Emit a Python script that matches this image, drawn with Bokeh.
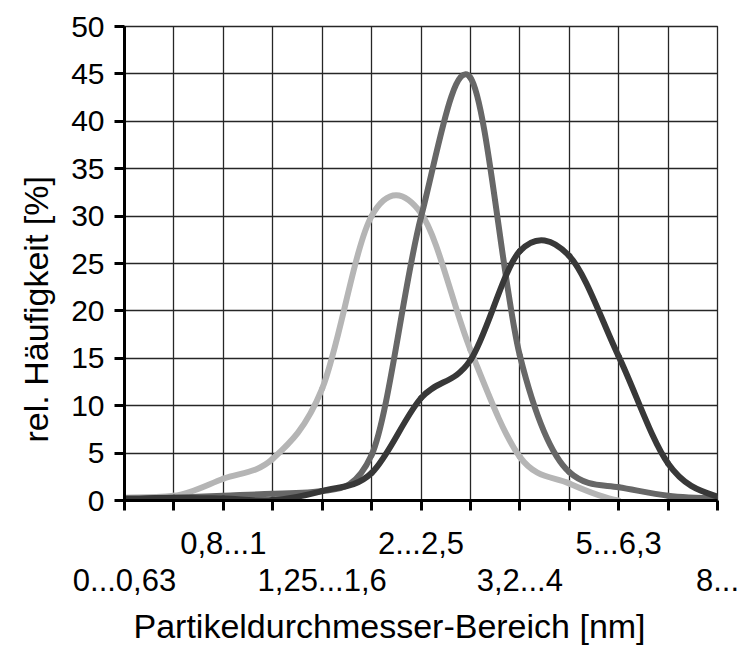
import math
from bokeh.plotting import figure
from bokeh.models import Range1d, FixedTicker, LinearAxis, Title, ColumnDataSource
from bokeh.embed import file_html
from bokeh.resources import INLINE

nan = float("nan")

# particle diameter classes (nm)
categories = ["0...0,63", "0,63...0,8", "0,8...1", "1...1,25", "1,25...1,6", "1,6...2",
              "2...2,5", "2,5...3,2", "3,2...4", "4...5", "5...6,3", "6,3...8", "8..."]
# labels shown in upper row / lower row (indices)
upper_row = [2, 6, 10]
lower_row = [0, 4, 8, 12]

# relative frequency [%]
series_light = [0.3, 0.5, 2.3, 4.4, 11.8, 30.0, 30.3, 15.9, 4.6, 1.8, 0.0, nan, nan]
series_mid = [0.1, 0.3, 0.5, 0.7, 1.0, 4.8, 29.9, 44.6, 15.3, 3.0, 1.4, 0.5, 0.2]
series_dark = [0.2, 0.3, 0.2, 0.05, 1.0, 2.9, 10.8, 14.8, 26.3, 25.8, 15.2, 3.9, 0.4]

y_ticks = list(range(0, 51, 5))

FONT = "Liberation Sans"

p = figure(width=742, height=658, output_backend="svg", toolbar_location=None,
           x_range=Range1d(0, len(categories) - 1), y_range=Range1d(0, 50),
           min_border_left=124, min_border_right=25, min_border_top=26, min_border_bottom=158)
p.background_fill_color = "white"
p.border_fill_color = "white"
p.outline_line_color = "#262626"
p.outline_line_width = 1.3

xt = list(range(len(categories)))

# grid
p.xgrid.ticker = FixedTicker(ticks=xt)
p.ygrid.ticker = FixedTicker(ticks=y_ticks)
for g in (p.xgrid, p.ygrid):
    g.grid_line_color = "#262626"
    g.grid_line_width = 1.3

# y axis
ya = p.yaxis[0]
ya.ticker = FixedTicker(ticks=y_ticks)
ya.axis_line_width = 3
ya.axis_line_color = "black"
ya.major_tick_line_width = 3
ya.major_tick_out = 10
ya.major_tick_in = 0
ya.minor_tick_out = 0
ya.minor_tick_in = 0
ya.major_label_text_font = FONT
ya.major_label_text_font_size = "30px"
ya.major_label_text_color = "black"
ya.major_label_standoff = 10

# x axis, upper row of labels
xa = p.xaxis[0]
xa.ticker = FixedTicker(ticks=xt)
xa.major_label_overrides = {i: (categories[i] if i in upper_row else "") for i in xt}
xa.axis_line_width = 3
xa.axis_line_color = "black"
xa.major_tick_line_width = 3
xa.major_tick_out = 10
xa.major_tick_in = 0
xa.minor_tick_out = 0
xa.minor_tick_in = 0
xa.major_label_text_font = FONT
xa.major_label_text_font_size = "31px"
xa.major_label_text_color = "black"
xa.major_label_standoff = 21

# x axis, lower row of labels
xb = LinearAxis(ticker=FixedTicker(ticks=lower_row))
xb.major_label_overrides = {i: categories[i] for i in lower_row}
xb.axis_line_color = None
xb.major_tick_line_color = None
xb.major_tick_out = 0
xb.major_tick_in = 0
xb.minor_tick_line_color = None
xb.major_label_text_font = FONT
xb.major_label_text_font_size = "31px"
xb.major_label_text_color = "black"
xb.major_label_standoff = 12
p.add_layout(xb, "below")


def bezier_source(vals):
    """Smoothed-line segments (cubic Bezier, Catmull-Rom tangents with
    overshoot limiting on monotone stretches)."""
    n = len(vals)

    def ok(v):
        return v is not None and not math.isnan(v)

    m = []
    for i in range(n):
        if not ok(vals[i]):
            m.append(nan)
            continue
        a = vals[i - 1] if i > 0 and ok(vals[i - 1]) else vals[i]
        b = vals[i + 1] if i + 1 < n and ok(vals[i + 1]) else vals[i]
        m.append((b - a) / 2.0)

    for i in range(n - 1):
        if not (ok(vals[i]) and ok(vals[i + 1])):
            continue
        delta = vals[i + 1] - vals[i]
        if delta == 0:
            continue
        al, be = m[i] / delta, m[i + 1] / delta
        if al > 0 and be > 0 and al * al + be * be > 9:
            tau = 3.0 / math.sqrt(al * al + be * be)
            m[i] = tau * al * delta
            m[i + 1] = tau * be * delta

    d = dict(x0=[], y0=[], x1=[], y1=[], cx0=[], cy0=[], cx1=[], cy1=[])
    for i in range(n - 1):
        if not (ok(vals[i]) and ok(vals[i + 1])):
            continue
        d["x0"].append(i)
        d["y0"].append(vals[i])
        d["x1"].append(i + 1)
        d["y1"].append(vals[i + 1])
        d["cx0"].append(i + 1 / 3)
        d["cy0"].append(vals[i] + m[i] / 3)
        d["cx1"].append(i + 1 - 1 / 3)
        d["cy1"].append(vals[i + 1] - m[i + 1] / 3)
    return ColumnDataSource(d)


for vals, col in ((series_light, "#b5b5b5"), (series_mid, "#676767"), (series_dark, "#383838")):
    p.bezier(x0="x0", y0="y0", x1="x1", y1="y1", cx0="cx0", cy0="cy0", cx1="cx1", cy1="cy1",
             source=bezier_source(vals), line_color=col, line_width=6, line_cap="round")

# axis titles
p.add_layout(Title(text="rel. Häufigkeit [%]", align="left", offset=58, standoff=28,
                   text_font=FONT, text_font_size="34px", text_font_style="normal",
                   text_color="black"), "left")
p.add_layout(Title(text="Partikeldurchmesser-Bereich [nm]", align="left", offset=9, standoff=23,
                   text_font=FONT, text_font_size="34px", text_font_style="normal",
                   text_color="black"), "below")

open("out.html", "w").write(file_html(p, INLINE))
